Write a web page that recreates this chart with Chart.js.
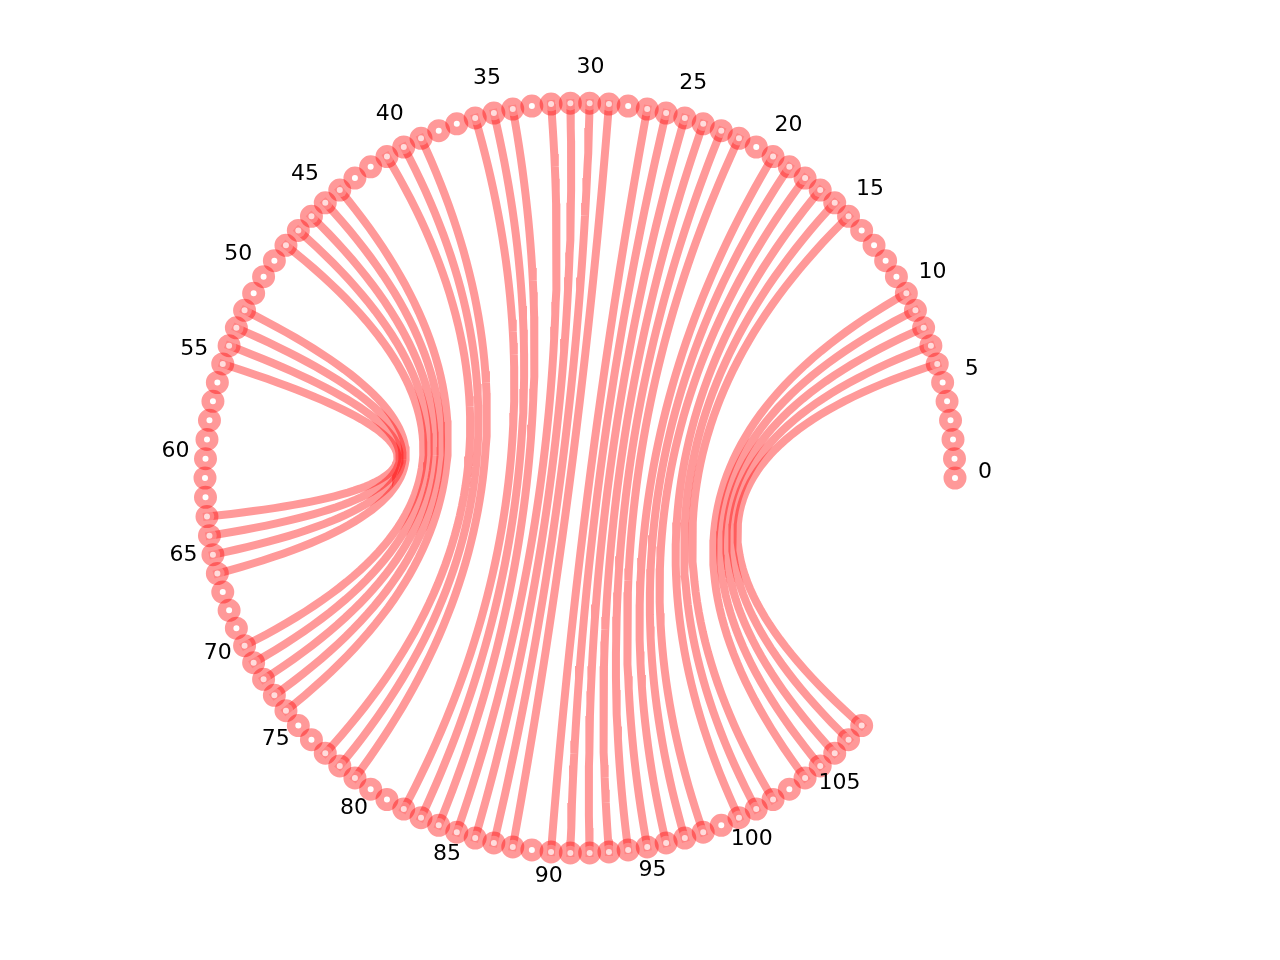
<!DOCTYPE html>
<html>
<head>
<meta charset="utf-8">
<script src="https://cdn.jsdelivr.net/npm/chart.js@4"></script>
<style>
  html, body { margin: 0; padding: 0; background: #ffffff; }
  #wrap { width: 1280px; height: 960px; }
</style>
</head>
<body>
<div id="wrap"><canvas id="chord"></canvas></div>
<script>
// nucleotide positions around the circle (0 .. 108), 122 slots on the ring
const nodeCount = 109;
const ringSlots = 122;

// base pairs: pairStart[i] <-> pairEnd[i]
const pairStart = [55, 54, 53, 52, 48, 47, 46, 45, 44, 41, 40, 39,
                   36, 35, 34, 32, 31, 30, 29, 27, 26, 25, 24, 23,
                   22, 20, 19, 18, 17, 16, 15, 10, 9, 8, 7, 6];
const pairEnd   = [63, 64, 65, 66, 70, 71, 72, 73, 74, 77, 78, 79,
                   82, 83, 84, 85, 86, 87, 88, 90, 91, 92, 93, 94,
                   95, 96, 97, 98, 100, 101, 102, 104, 105, 106, 107, 108];

// tick labels every five positions
const tickIndex = [0, 5, 10, 15, 20, 25, 30, 35, 40, 45, 50, 55, 60, 65, 70, 75, 80, 85, 90, 95, 100, 105];
const tickLabels = tickIndex.map(i => String(i));

const RED = 'rgba(255, 0, 0, 0.4)';

function ringPos(k, r) {
    const a = k * 2 * Math.PI / ringSlots;
    return { x: r * Math.cos(a), y: r * Math.sin(a) };
}

// quadratic curve with the control point at the ring centre
function chordPoints(i, j) {
    const p0 = ringPos(i, 1);
    const p2 = ringPos(j, 1);
    const pts = [];
    const steps = 60;
    for (let s = 0; s <= steps; s++) {
        const t = s / steps;
        const a = (1 - t) * (1 - t);
        const b = t * t;
        pts.push({ x: a * p0.x + b * p2.x, y: a * p0.y + b * p2.y });
    }
    return pts;
}

const nodePoints = [];
for (let k = 0; k < nodeCount; k++) nodePoints.push(ringPos(k, 1));

const chordSets = pairStart.map((s, i) => ({
    type: 'line',
    data: chordPoints(s, pairEnd[i]),
    borderColor: RED,
    borderWidth: 8,
    borderCapStyle: 'square',
    pointRadius: 0,
    tension: 0,
    fill: false,
    order: 1
}));

const ringLabels = {
    id: 'ringLabels',
    afterDatasetsDraw(chart) {
        const { ctx, scales } = chart;
        ctx.save();
        ctx.fillStyle = '#000000';
        ctx.font = '22px "DejaVu Sans", sans-serif';
        ctx.textAlign = 'center';
        ctx.textBaseline = 'middle';
        tickIndex.forEach((k, i) => {
            const p = ringPos(k, 1.08);
            ctx.fillText(tickLabels[i], scales.x.getPixelForValue(p.x), scales.y.getPixelForValue(p.y) - 6);
        });
        ctx.restore();
    }
};

new Chart(document.getElementById('chord'), {
    type: 'scatter',
    data: {
        datasets: [
            {
                data: nodePoints,
                pointStyle: 'circle',
                pointRadius: 7.25,
                pointBorderWidth: 8.5,
                pointBorderColor: RED,
                pointBackgroundColor: 'rgba(255, 255, 255, 0.65)',
                showLine: false,
                order: 0
            },
            ...chordSets
        ]
    },
    options: {
        responsive: true,
        maintainAspectRatio: false,
        animation: false,
        layout: { padding: 0, autoPadding: false },
        scales: {
            x: { type: 'linear', min: -1.54667, max: 1.86667, display: false },
            y: { type: 'linear', min: -1.28533, max: 1.27467, display: false }
        },
        plugins: {
            legend: { display: false },
            tooltip: { enabled: false }
        },
        events: []
    },
    plugins: [ringLabels]
});
</script>
</body>
</html>
